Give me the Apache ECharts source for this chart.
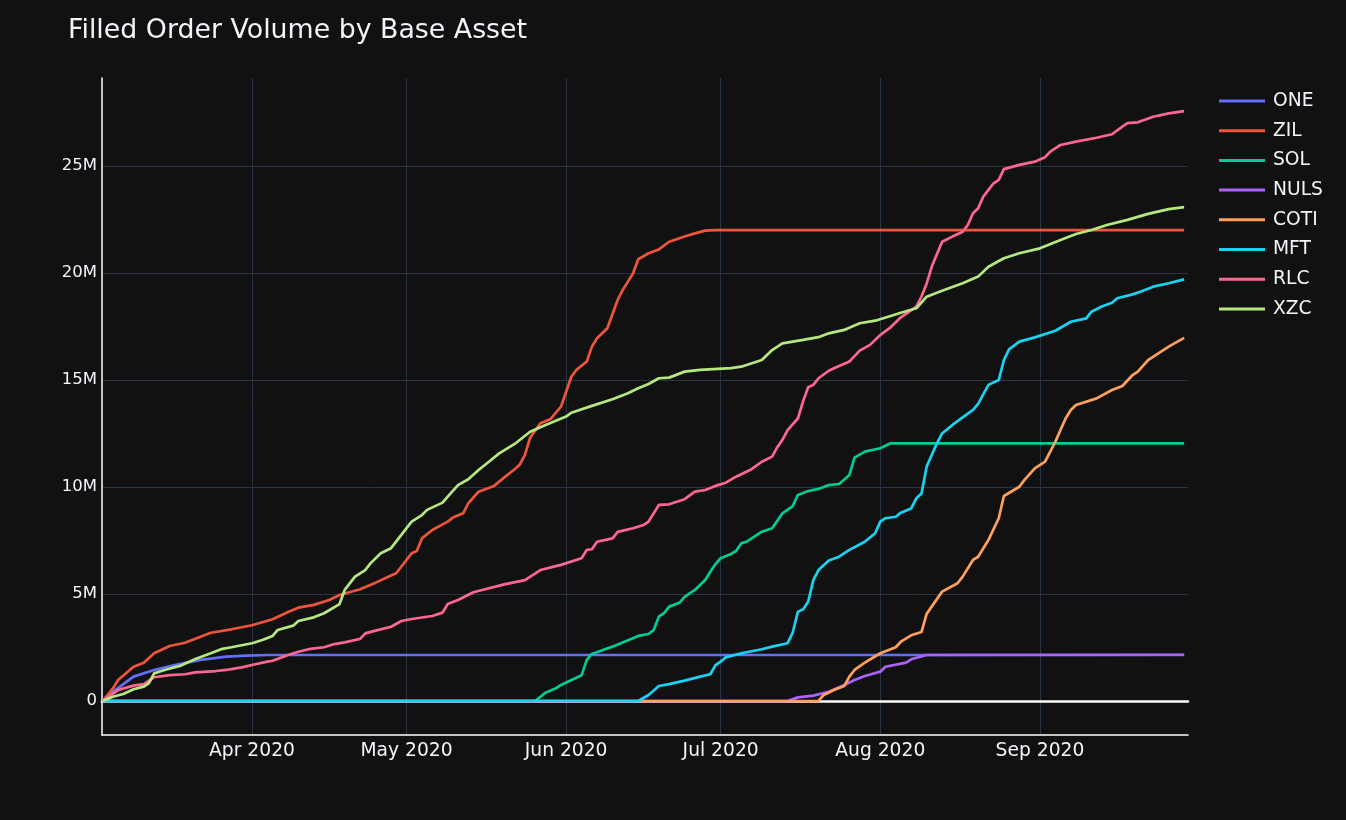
<!DOCTYPE html>
<html>
<head>
<meta charset="utf-8">
<script src="https://cdn.jsdelivr.net/npm/echarts@6/dist/echarts.min.js"></script>
<style>
  html, body { margin: 0; padding: 0; background: #111111; }
  #chart { width: 1346px; height: 820px; }
</style>
</head>
<body>
<div id="chart"></div>
<script>
// values in millions, each series with its own observation dates
const ONE_dates = ['2020-03-03','2020-03-05','2020-03-09','2020-03-13','2020-03-17','2020-03-22','2020-03-27','2020-03-31','2020-04-04','2020-09-29'];
const ONE = [0,0.43,1.14,1.45,1.68,1.92,2.07,2.12,2.15,2.15];

const ZIL_dates = ['2020-03-03','2020-03-05','2020-03-06','2020-03-09','2020-03-11','2020-03-13','2020-03-16','2020-03-19','2020-03-21','2020-03-24','2020-03-28',
  '2020-04-01','2020-04-05','2020-04-08','2020-04-10','2020-04-13','2020-04-16','2020-04-18','2020-04-22','2020-04-25','2020-04-28','2020-04-29',
  '2020-05-02','2020-05-03','2020-05-04','2020-05-06','2020-05-09','2020-05-10','2020-05-12','2020-05-13','2020-05-15','2020-05-18','2020-05-20','2020-05-22','2020-05-23','2020-05-24','2020-05-25','2020-05-27','2020-05-29','2020-05-31',
  '2020-06-02','2020-06-03','2020-06-05','2020-06-06','2020-06-07','2020-06-09','2020-06-11','2020-06-12','2020-06-14','2020-06-15','2020-06-17','2020-06-19','2020-06-21','2020-06-24','2020-06-26','2020-06-28','2020-06-30','2020-09-29'];
const ZIL = [0,0.59,0.98,1.60,1.79,2.23,2.57,2.72,2.91,3.19,3.35,
  3.54,3.82,4.16,4.36,4.49,4.72,4.95,5.22,5.53,5.86,5.97,
  6.90,7.01,7.60,7.99,8.38,8.57,8.77,9.24,9.78,10.05,10.45,10.83,11.05,11.5,12.3,12.98,13.18,13.75,
  15.15,15.47,15.86,16.56,16.95,17.42,18.74,19.21,19.99,20.64,20.92,21.1,21.46,21.7,21.85,21.98,22.0,22.0];

const SOL_dates = ['2020-03-03','2020-05-26','2020-05-28','2020-05-30','2020-05-31',
  '2020-06-04','2020-06-05','2020-06-06','2020-06-10','2020-06-15','2020-06-17','2020-06-18','2020-06-19','2020-06-20','2020-06-21','2020-06-23','2020-06-24','2020-06-26','2020-06-28','2020-06-29','2020-06-30',
  '2020-07-01','2020-07-03','2020-07-04','2020-07-05','2020-07-06','2020-07-09','2020-07-11','2020-07-13','2020-07-15','2020-07-16','2020-07-18','2020-07-20','2020-07-22','2020-07-24','2020-07-26','2020-07-27','2020-07-29',
  '2020-08-01','2020-08-03','2020-09-29'];
const SOL = [0,0,0.39,0.59,0.75,
  1.2,1.92,2.20,2.54,3.04,3.13,3.32,3.94,4.10,4.41,4.59,4.87,5.19,5.65,6.04,6.4,
  6.67,6.87,7.01,7.37,7.44,7.91,8.07,8.77,9.11,9.63,9.81,9.91,10.09,10.14,10.56,11.37,11.65,
  11.81,12.04,12.04];

const NULS_dates = ['2020-03-03','2020-07-14','2020-07-16','2020-07-19','2020-07-22','2020-07-24','2020-07-25','2020-07-27','2020-07-29',
  '2020-08-01','2020-08-02','2020-08-06','2020-08-07','2020-08-10','2020-09-29'];
const NULS = [0,0,0.17,0.25,0.43,0.64,0.75,0.98,1.17,1.37,1.60,1.79,1.95,2.15,2.16];

const COTI_dates = ['2020-03-03','2020-07-20','2020-07-21','2020-07-23','2020-07-25','2020-07-26','2020-07-27','2020-07-29',
  '2020-08-01','2020-08-04','2020-08-05','2020-08-07','2020-08-09','2020-08-10','2020-08-13','2020-08-16','2020-08-17','2020-08-19','2020-08-20','2020-08-22','2020-08-24','2020-08-25','2020-08-28','2020-08-29','2020-08-31',
  '2020-09-02','2020-09-04','2020-09-06','2020-09-07','2020-09-08','2020-09-12','2020-09-15','2020-09-17','2020-09-19','2020-09-20','2020-09-22','2020-09-26','2020-09-29'];
const COTI = [0,0,0.28,0.51,0.70,1.14,1.45,1.79,
  2.23,2.51,2.77,3.07,3.22,4.07,5.11,5.50,5.81,6.59,6.74,7.52,8.54,9.58,10.01,10.33,10.87,
  11.18,12.12,13.21,13.6,13.83,14.14,14.53,14.72,15.23,15.39,15.93,16.56,16.97];

const MFT_dates = ['2020-03-03','2020-06-15','2020-06-17','2020-06-19','2020-06-21','2020-06-24','2020-06-27','2020-06-29','2020-06-30',
  '2020-07-01','2020-07-02','2020-07-05','2020-07-09','2020-07-11','2020-07-14','2020-07-15','2020-07-16','2020-07-17','2020-07-18','2020-07-19','2020-07-20','2020-07-22','2020-07-24','2020-07-26','2020-07-29','2020-07-31',
  '2020-08-01','2020-08-02','2020-08-04','2020-08-05','2020-08-07','2020-08-08','2020-08-09','2020-08-10','2020-08-12','2020-08-13','2020-08-15','2020-08-19','2020-08-20','2020-08-22','2020-08-24','2020-08-25','2020-08-26','2020-08-28','2020-08-31',
  '2020-09-04','2020-09-07','2020-09-10','2020-09-11','2020-09-13','2020-09-15','2020-09-16','2020-09-19','2020-09-20','2020-09-23','2020-09-26','2020-09-29'];
const MFT = [0,0,0.28,0.70,0.79,0.95,1.14,1.25,1.68,
  1.84,2.04,2.23,2.42,2.54,2.70,3.2,4.17,4.28,4.64,5.65,6.12,6.56,6.74,7.06,7.44,7.84,
  8.38,8.54,8.61,8.80,9.0,9.47,9.70,10.95,12.04,12.5,12.9,13.6,13.88,14.77,15.0,15.93,16.43,16.79,16.99,
  17.30,17.72,17.88,18.19,18.43,18.61,18.82,19.00,19.08,19.36,19.52,19.70];

const RLC_dates = ['2020-03-03','2020-03-06','2020-03-09','2020-03-11','2020-03-13','2020-03-16','2020-03-19','2020-03-21','2020-03-25','2020-03-27','2020-03-30',
  '2020-04-01','2020-04-04','2020-04-05','2020-04-08','2020-04-10','2020-04-12','2020-04-15','2020-04-17','2020-04-19','2020-04-21','2020-04-22','2020-04-23','2020-04-25','2020-04-28','2020-04-30',
  '2020-05-02','2020-05-06','2020-05-08','2020-05-09','2020-05-11','2020-05-14','2020-05-17','2020-05-20','2020-05-24','2020-05-27','2020-05-31',
  '2020-06-04','2020-06-05','2020-06-06','2020-06-07','2020-06-10','2020-06-11','2020-06-14','2020-06-16','2020-06-17','2020-06-19','2020-06-21','2020-06-24','2020-06-26','2020-06-28','2020-06-30',
  '2020-07-02','2020-07-04','2020-07-07','2020-07-09','2020-07-11','2020-07-12','2020-07-13','2020-07-14','2020-07-16','2020-07-17','2020-07-18','2020-07-19','2020-07-20','2020-07-22','2020-07-23','2020-07-26','2020-07-28','2020-07-30',
  '2020-08-01','2020-08-03','2020-08-05','2020-08-08','2020-08-09','2020-08-10','2020-08-11','2020-08-13','2020-08-15','2020-08-17','2020-08-18','2020-08-19','2020-08-20','2020-08-21','2020-08-23','2020-08-24','2020-08-25','2020-08-28','2020-08-31',
  '2020-09-02','2020-09-03','2020-09-05','2020-09-08','2020-09-12','2020-09-15','2020-09-17','2020-09-18','2020-09-20','2020-09-23','2020-09-26','2020-09-29'];
const RLC = [0,0.51,0.72,0.79,1.11,1.21,1.25,1.34,1.40,1.45,1.57,
  1.68,1.84,1.88,2.15,2.30,2.42,2.51,2.66,2.74,2.85,2.90,3.16,3.29,3.47,3.74,
  3.83,3.97,4.13,4.53,4.72,5.08,5.27,5.45,5.65,6.12,6.36,
  6.67,7.06,7.09,7.44,7.60,7.90,8.07,8.22,8.38,9.16,9.19,9.43,9.78,9.86,10.05,
  10.20,10.48,10.83,11.18,11.42,11.86,12.20,12.66,13.2,14.0,14.66,14.77,15.08,15.43,15.55,15.86,16.37,16.64,
  17.10,17.46,17.93,18.43,18.9,19.5,20.3,21.46,21.70,21.93,22.24,22.79,23.02,23.57,24.19,24.35,24.85,25.05,25.20,
  25.41,25.67,25.98,26.14,26.32,26.48,26.84,27.0,27.04,27.30,27.46,27.56];

const XZC_dates = ['2020-03-03','2020-03-05','2020-03-07','2020-03-09','2020-03-11','2020-03-12','2020-03-13','2020-03-15','2020-03-18','2020-03-21','2020-03-24','2020-03-26','2020-03-28',
  '2020-04-01','2020-04-03','2020-04-05','2020-04-06','2020-04-09','2020-04-10','2020-04-13','2020-04-15','2020-04-18','2020-04-19','2020-04-21','2020-04-23','2020-04-24','2020-04-26','2020-04-28','2020-04-30',
  '2020-05-02','2020-05-04','2020-05-05','2020-05-08','2020-05-09','2020-05-11','2020-05-13','2020-05-15','2020-05-17','2020-05-19','2020-05-22','2020-05-25','2020-05-28',
  '2020-06-01','2020-06-02','2020-06-06','2020-06-10','2020-06-13','2020-06-15','2020-06-17','2020-06-19','2020-06-21','2020-06-24','2020-06-27',
  '2020-07-03','2020-07-05','2020-07-09','2020-07-11','2020-07-13','2020-07-17','2020-07-20','2020-07-22','2020-07-25','2020-07-28','2020-07-31',
  '2020-08-03','2020-08-05','2020-08-08','2020-08-10','2020-08-13','2020-08-17','2020-08-20','2020-08-22','2020-08-25','2020-08-28',
  '2020-09-01','2020-09-05','2020-09-08','2020-09-11','2020-09-14','2020-09-18','2020-09-22','2020-09-26','2020-09-29'];
const XZC = [0,0.2,0.33,0.55,0.67,0.83,1.29,1.45,1.64,1.96,2.23,2.42,2.51,
  2.70,2.85,3.04,3.32,3.52,3.74,3.91,4.10,4.53,5.19,5.81,6.12,6.43,6.90,7.14,7.76,
  8.38,8.69,8.93,9.27,9.55,10.09,10.36,10.79,11.18,11.57,12.01,12.58,12.90,
  13.29,13.47,13.79,14.10,14.38,14.61,14.81,15.08,15.11,15.39,15.47,
  15.55,15.62,15.93,16.40,16.71,16.87,17.0,17.18,17.34,17.65,17.77,
  17.99,18.14,18.35,18.89,19.17,19.52,19.83,20.29,20.69,20.92,
  21.15,21.54,21.82,22.01,22.24,22.48,22.76,22.98,23.08];

const seriesNames = ['ONE','ZIL','SOL','NULS','COTI','MFT','RLC','XZC'];
const seriesDates = [ONE_dates, ZIL_dates, SOL_dates, NULS_dates, COTI_dates, MFT_dates, RLC_dates, XZC_dates];
const seriesValues = [ONE, ZIL, SOL, NULS, COTI, MFT, RLC, XZC];
const colors = ['#636efa','#EF553B','#00cc96','#ab63fa','#FFA15A','#19d3f3','#FF6692','#B6E880'];
const monthNames = ['Jan','Feb','Mar','Apr','May','Jun','Jul','Aug','Sep','Oct','Nov','Dec'];

const FONT = '"DejaVu Sans", Verdana, sans-serif';
const TXT = '#f2f5fa';
const GRID = '#283442';

const chart = echarts.init(document.getElementById('chart'), null, { renderer: 'canvas' });

const series = seriesNames.map((name, si) => ({
  name: name,
  type: 'line',
  xAxisIndex: 0,
  symbol: 'none',
  showSymbol: false,
  smooth: false,
  lineStyle: { width: 2.7, color: colors[si] },
  itemStyle: { color: colors[si] },
  emphasis: { disabled: true },
  data: seriesDates[si].map((d, i) => [d, seriesValues[si][i] * 1e6])
}));

chart.setOption({
  backgroundColor: '#111111',
  animation: false,
  textStyle: { fontFamily: FONT },
  title: {
    text: 'Filled Order Volume by Base Asset',
    left: 68, top: 18, padding: 0,
    textStyle: { color: TXT, fontSize: 26.8, fontWeight: 'normal', fontFamily: FONT }
  },
  legend: {
    orient: 'vertical',
    left: 1219, top: 91, padding: 0,
    icon: 'rect',
    itemWidth: 46, itemHeight: 3,
    itemGap: 9.7,
    textStyle: { color: TXT, fontSize: 18.7, lineHeight: 20, fontFamily: FONT, padding: [0, 0, 0, 3] },
    data: seriesNames
  },
  grid: { left: 102, right: 158, top: 78, bottom: 85, containLabel: false },
  xAxis: [{
    type: 'time',
    min: '2020-03-02 21:00',
    max: '2020-09-29 18:00',
    splitNumber: 7,
    axisLine: { show: true, onZero: false, lineStyle: { color: '#ffffff', width: 1.5 } },
    axisTick: { show: false },
    splitLine: { show: true, showMinLine: false, showMaxLine: false, lineStyle: { color: GRID, width: 1 } },
    axisLabel: {
      color: TXT, fontSize: 18.7, fontFamily: FONT, margin: 7,
      showMinLabel: false, showMaxLabel: false,
      formatter: function (v) { const d = new Date(v); return monthNames[d.getMonth()] + ' ' + d.getFullYear(); }
    }
  }, {
    type: 'time',
    min: '2020-03-02 21:00',
    max: '2020-09-29 18:00',
    position: 'bottom',
    axisLine: { show: true, onZero: true, lineStyle: { color: '#ffffff', width: 2.6 } },
    axisTick: { show: false },
    axisLabel: { show: false },
    splitLine: { show: false }
  }],
  yAxis: {
    type: 'value',
    min: -1.589e6,
    max: 29.11e6,
    splitNumber: 5,
    axisLine: { show: true, onZero: false, lineStyle: { color: '#ffffff', width: 1.5 } },
    axisTick: { show: false },
    splitLine: { show: true, showMinLine: false, showMaxLine: false, lineStyle: { color: GRID, width: 1 } },
    axisLabel: {
      color: TXT, fontSize: 16.5, fontFamily: FONT, margin: 5,
      showMinLabel: false, showMaxLabel: false,
      formatter: function (v) { return v === 0 ? '0' : (v / 1e6) + 'M'; }
    }
  },
  series: series
});
</script>
</body>
</html>
